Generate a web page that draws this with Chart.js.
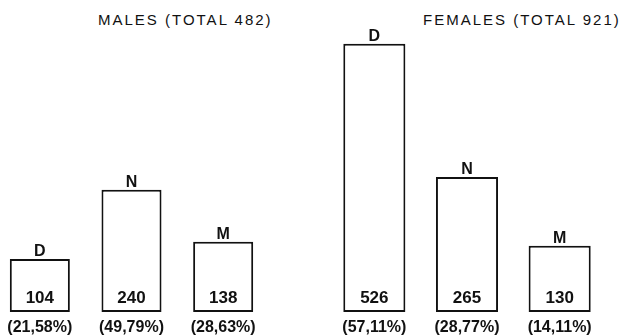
<!DOCTYPE html>
<html>
<head>
<meta charset="utf-8">
<script src="https://cdn.jsdelivr.net/npm/chart.js@4/dist/chart.umd.min.js"></script>
<style>
  body { margin: 0; background: #fff; width: 619px; height: 335px; overflow: hidden; position: relative; }
  .box { position: absolute; top: 0; height: 335px; }
  .titulo { position: absolute; top: 11px; font: 15px "Liberation Sans", Arial, sans-serif; letter-spacing: 2px; color: #111; white-space: nowrap; }
</style>
</head>
<body>
<div class="titulo" id="t1" style="left:98px">MALES (TOTAL 482)</div>
<div class="titulo" id="t2" style="left:423px">FEMALES (TOTAL 921)</div>
<div class="box" style="left:-6px; width:275px"><canvas id="hombres"></canvas></div>
<div class="box" style="left:328px; width:278px"><canvas id="mujeres"></canvas></div>
<script>
var categorias = ['D', 'N', 'M'];
var hombres = [104, 240, 138];
var mujeres = [526, 265, 130];
var hombresPct = ['(21,58%)', '(49,79%)', '(28,63%)'];
var mujeresPct = ['(57,11%)', '(28,77%)', '(14,11%)'];

var etiquetasPlugin = {
  id: 'etiquetas',
  afterDatasetsDraw: function (chart) {
    var ctx = chart.ctx;
    var meta = chart.getDatasetMeta(0);
    var pct = chart.options.plugins.etiquetas.pct;
    var area = chart.chartArea;
    ctx.save();
    ctx.fillStyle = '#111';
    ctx.textAlign = 'center';
    ctx.textBaseline = 'alphabetic';
    meta.data.forEach(function (bar, i) {
      ctx.font = 'bold 16px "Liberation Sans", Arial, sans-serif';
      ctx.fillText(chart.data.labels[i], bar.x, bar.y - 3);
      ctx.font = 'bold 17px "Liberation Sans", Arial, sans-serif';
      ctx.fillText(chart.data.datasets[0].data[i], bar.x, area.bottom - 9);
      ctx.font = 'bold 16px "Liberation Sans", Arial, sans-serif';
      ctx.fillText(pct[i], bar.x, area.bottom + 20);
    });
    ctx.restore();
  }
};

function generarchart(ctx, data2, pct, ancho) {
  return new Chart(ctx, {
    type: 'bar',
    data: {
      labels: categorias,
      datasets: [{
        data: data2,
        backgroundColor: 'rgba(255, 255, 255, 1)',
        borderColor: 'rgba(17, 17, 17, 1)',
        borderWidth: 2,
        borderSkipped: false,
        barPercentage: ancho,
        categoryPercentage: 1
      }]
    },
    options: {
      responsive: true,
      maintainAspectRatio: false,
      animation: false,
      layout: { padding: { top: 0, bottom: 23, left: 0, right: 0 } },
      scales: {
        x: { display: false },
        y: { display: false, min: 0, max: 612 }
      },
      plugins: {
        legend: { display: false },
        tooltip: { enabled: false },
        etiquetas: { pct: pct }
      }
    },
    plugins: [etiquetasPlugin]
  });
}

generarchart(document.getElementById('hombres'), hombres, hombresPct, 0.655);
generarchart(document.getElementById('mujeres'), mujeres, mujeresPct, 0.67);
</script>
</body>
</html>
